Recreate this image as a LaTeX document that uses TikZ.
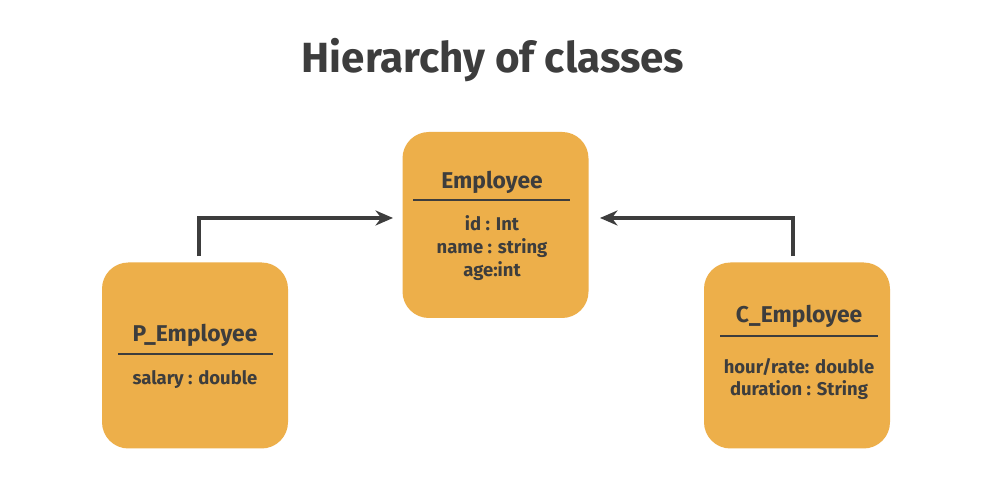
\documentclass[tikz,border=0pt]{standalone}
\usepackage{fontspec}
\setmainfont{Fira Sans}
\usetikzlibrary{arrows.meta,positioning}
\definecolor{boxfill}{HTML}{EDAF4A}
\definecolor{ink}{HTML}{3D3D3D}
\begin{document}
\begin{tikzpicture}[>={Stealth[length=3.5mm,width=3mm]},
  classbox/.style={fill=boxfill,rounded corners=15pt,minimum width=3.72cm,minimum height=3.72cm,inner sep=0pt},
  head/.style={text=ink,font=\fontsize{13}{15}\selectfont\bfseries},
  attr/.style={text=ink,font=\fontsize{10.5}{12}\selectfont\bfseries,align=center}]
  \useasboundingbox[fill=white] (0,0) rectangle (20,10);
  \node[text=ink,font=\fontsize{24}{28}\selectfont\bfseries] (title) at (9.86,8.8) {Hierarchy of classes};

  \node[classbox] (emp) at (9.91,5.5) {};
  \node[classbox] (pemp) at (3.9,2.89) {};
  \node[classbox] (cemp) at (15.94,2.89) {};

  \node[head] (emph) at (9.84,6.36) {Employee};
  \draw[ink,line width=1.5pt] (8.26,6.0) -- (11.4,6.0);
  \node[attr] (empa) at (9.84,5.04) {id : Int\\[1pt]name : string\\[1pt]age:int};

  \node[head] (pemph) at (3.9,3.3) {P\_Employee};
  \draw[ink,line width=1.5pt] (2.36,2.92) -- (5.46,2.92);
  \node[attr] (pempa) at (3.9,2.4) {salary : double};

  \node[head] (cemph) at (15.98,3.68) {C\_Employee};
  \draw[ink,line width=1.5pt] (14.4,3.28) -- (17.56,3.28);
  \node[attr] (cempa) at (15.98,2.42) {hour/rate: double\\[1pt]duration : String};

  \coordinate (inl) at (7.86,5.64);
  \coordinate (inr) at (12.0,5.64);
  \draw[->,ink,line width=2pt] ([xshift=0.8mm,yshift=1.2mm]pemp.north) |- (inl);
  \draw[->,ink,line width=2pt] ([xshift=-0.8mm,yshift=1.2mm]cemp.north) |- (inr);
\end{tikzpicture}
\end{document}
